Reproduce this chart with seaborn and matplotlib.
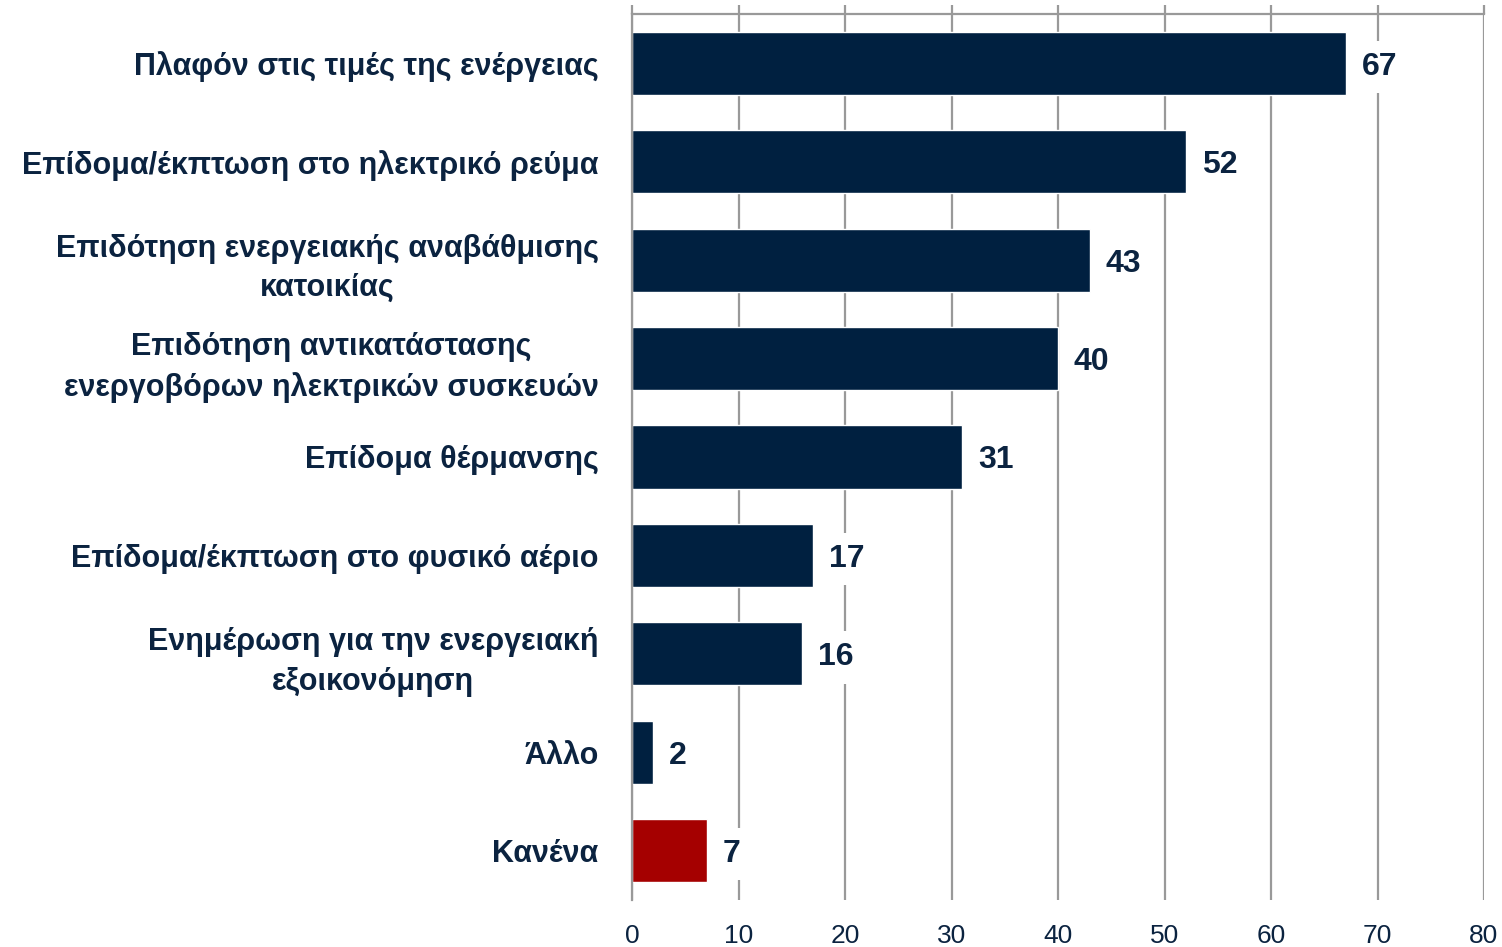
import matplotlib
matplotlib.use("Agg")
import matplotlib.pyplot as plt
import seaborn as sns
import pandas as pd

categories = [
    "Πλαφόν στις τιμές της ενέργειας",
    "Επίδομα/έκπτωση στο ηλεκτρικό ρεύμα",
    "Επιδότηση ενεργειακής αναβάθμισης\nκατοικίας",
    "Επιδότηση αντικατάστασης\nενεργοβόρων ηλεκτρικών συσκευών",
    "Επίδομα θέρμανσης",
    "Επίδομα/έκπτωση στο φυσικό αέριο",
    "Ενημέρωση για την ενεργειακή\nεξοικονόμηση",
    "Άλλο",
    "Κανένα",
]
values = [67, 52, 43, 40, 31, 17, 16, 2, 7]
bar_colors = ["#002040"] * 8 + ["#A50000"]
x_ticks = [0, 10, 20, 30, 40, 50, 60, 70, 80]

NAVY = "#0B2340"
GRID = "#999999"

sns.set_style("white")
plt.rcParams["font.family"] = ["Liberation Sans", "DejaVu Sans"]

df = pd.DataFrame({"label": categories, "value": values})

fig = plt.figure(figsize=(15.02, 9.47), dpi=100)
ax = fig.add_axes([632 / 1502, 1 - 900 / 947, (1484 - 632) / 1502, (900 - 14) / 947])

sns.barplot(data=df, x="value", y="label", hue="label", palette=bar_colors,
            legend=False, width=0.64, saturation=1, ax=ax, orient="h")

ax.set_xlim(0, 80)
ax.set_ylim(len(categories) - 0.5, -0.5)
ax.set_xticks(x_ticks)
ax.set_xticklabels([str(t) for t in x_ticks])
ax.set_axisbelow(True)
ax.grid(axis="x", color=GRID, linewidth=1.6)
ax.grid(axis="y", visible=False)
ax.set_xlabel("")
ax.set_ylabel("")

# spines
for s in ["right", "bottom"]:
    ax.spines[s].set_visible(False)
for s in ["left", "top"]:
    ax.spines[s].set_color(GRID)
    ax.spines[s].set_linewidth(1.6)

# x tick labels at the bottom, small marks on top
ax.tick_params(axis="x", which="major", bottom=False, top=True, labelbottom=True,
               direction="out", length=6.5, width=1.6, color=GRID,
               labelsize=19, labelcolor=NAVY, pad=11)

# category labels, boundary ticks on the left
ax.set_yticks(range(len(categories)))
ax.set_yticklabels(categories, fontsize=22, fontweight="bold", color=NAVY,
                   multialignment="center", linespacing=1.42)
ax.tick_params(axis="y", which="major", length=0, pad=24)
ax.set_yticks([i - 0.5 for i in range(len(categories) + 1)], minor=True)
ax.tick_params(axis="y", which="minor", direction="out", length=8.5, width=1.6,
               color=GRID)

for i, v in enumerate(values):
    ax.annotate(str(v), xy=(v, i), xytext=(11.5, 0), textcoords="offset points",
                ha="left", va="center_baseline", fontsize=23, fontweight="bold",
                color=NAVY, bbox=dict(facecolor="white", edgecolor="none", pad=8))

fig.savefig("out.png", dpi=100)
